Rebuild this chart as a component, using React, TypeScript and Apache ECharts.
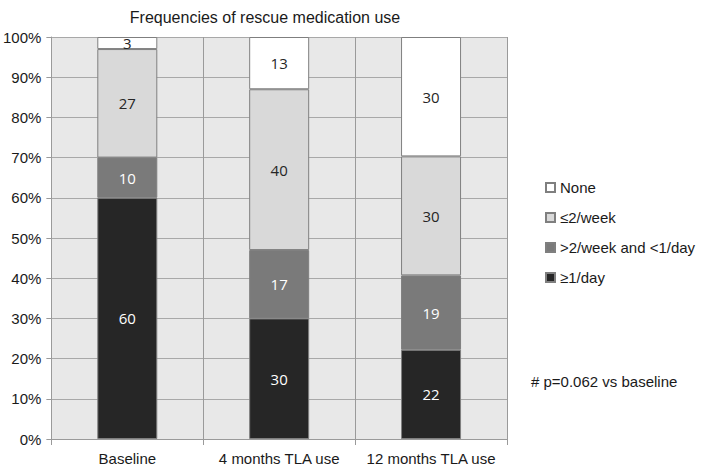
import React, { useEffect, useRef } from "react";
import * as echarts from "echarts";

const categories = ["Baseline", "4 months TLA use", "12 months TLA use"];
const legendNames = ["≥1/day", ">2/week and <1/day", "≤2/week", "None"];
const daily = [60, 30, 22.2];
const weekly = [10, 17, 18.5];
const rare = [27, 40, 29.6];
const none = [3, 13, 29.7];
const yTicks = [0, 10, 20, 30, 40, 50, 60, 70, 80, 90, 100];

const colors = ["#262626", "#7a7a7a", "#d9d9d9", "#ffffff"];
const labelColors = ["#ffffff", "#ffffff", "#262626", "#262626"];

export default function App() {
  const ref = useRef<HTMLDivElement>(null);
  useEffect(() => {
    if (!ref.current) return;
    const chart = echarts.init(ref.current, undefined, { renderer: "svg" });
    const values = [daily, weekly, rare, none];
    const font = "Liberation Sans, Arial, sans-serif";
    chart.setOption({
      animation: false,
      backgroundColor: "#ffffff",
      title: {
        text: "Frequencies of rescue medication use",
        left: 260,
        top: 4,
        textAlign: "center",
        textStyle: { fontFamily: font, fontSize: 16, fontWeight: "normal", color: "#1a1a1a" },
      },
      grid: {
        left: 50,
        right: 195,
        top: 37,
        bottom: 26,
        show: true,
        backgroundColor: "#e8e8e8",
        borderWidth: 0,
      },
      legend: {
        orient: "vertical",
        left: 540,
        top: 175,
        itemWidth: 9,
        itemHeight: 9,
        itemGap: 15,
        icon: "rect",
        data: [legendNames[3], legendNames[2], legendNames[1], legendNames[0]],
        textStyle: { fontFamily: font, fontSize: 15, color: "#1a1a1a", lineHeight: 15 },
      },
      xAxis: {
        type: "category",
        data: categories,
        axisLine: { show: true, lineStyle: { color: "#9a9a9a" } },
        axisTick: { show: true, length: 6, lineStyle: { color: "#9a9a9a" } },
        splitLine: { show: true, lineStyle: { color: "#9a9a9a", width: 1 } },
        axisLabel: { interval: 0, fontFamily: font, fontSize: 15, color: "#1a1a1a", margin: 12 },
      },
      yAxis: {
        type: "value",
        min: 0,
        max: 100,
        interval: 10,
        axisLine: { show: true, lineStyle: { color: "#9a9a9a" } },
        axisTick: { show: true, length: 5, lineStyle: { color: "#9a9a9a" } },
        splitLine: { show: true, lineStyle: { color: "#a8a8a8", width: 1 } },
        axisLabel: {
          fontFamily: font,
          fontSize: 15,
          color: "#1a1a1a",
          margin: 10,
          formatter: (v: number) => (yTicks.includes(v) ? v + "%" : ""),
        },
      },
      series: values.map((vals, i) => ({
        name: legendNames[i],
        type: "bar",
        stack: "total",
        barWidth: 60,
        data: vals,
        itemStyle: { color: colors[i], borderColor: "#7f7f7f", borderWidth: 1 },
        label: {
          show: true,
          position: "inside",
          formatter: (p: any) => String(Math.round(p.value)),
          fontFamily: "Open Sans, sans-serif",
          fontSize: 15,
          color: labelColors[i],
        },
      })),
      graphic: [
        {
          type: "text",
          left: 531,
          top: 374,
          style: {
            text: "# p=0.062 vs baseline",
            fontFamily: font,
            fontSize: 15,
            fill: "#1a1a1a",
          },
        },
      ],
    });
    return () => chart.dispose();
  }, []);
  return <div ref={ref} style={{ width: 702, height: 466, position: "absolute", left: 0, top: 0 }} />;
}
